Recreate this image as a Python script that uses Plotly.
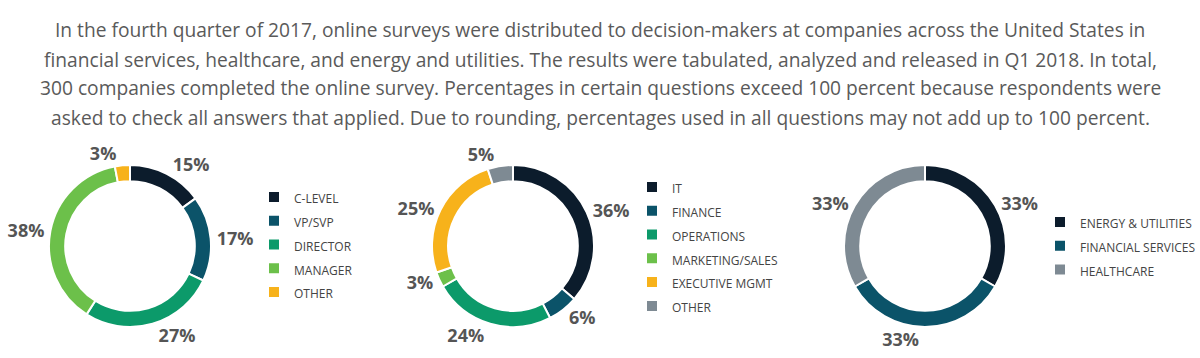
import plotly.graph_objects as go

intro_lines = [
    "In the fourth quarter of 2017, online surveys were distributed to decision-makers at companies across the United States in",
    "financial services, healthcare, and energy and utilities. The results were tabulated, analyzed and released in Q1 2018. In total,",
    "300 companies completed the online survey. Percentages in certain questions exceed 100 percent because respondents were",
    "asked to check all answers that applied. Due to rounding, percentages used in all questions may not add up to 100 percent.",
]

title_labels = ["C-LEVEL", "VP/SVP", "DIRECTOR", "MANAGER", "OTHER"]
title_values = [15, 17, 27, 38, 3]

dept_labels = ["IT", "FINANCE", "OPERATIONS", "MARKETING/SALES", "EXECUTIVE MGMT", "OTHER"]
dept_values = [36, 6, 24, 3, 25, 5]

industry_labels = ["ENERGY & UTILITIES", "FINANCIAL SERVICES", "HEALTHCARE"]
industry_values = [33, 33, 33]

NAVY = "#0c1c2c"
TEAL = "#0b5369"
GREEN = "#0c9a6a"
LGREEN = "#6cc04a"
ORANGE = "#f7b21b"
GRAY = "#7e8a93"

title_colors = [NAVY, TEAL, GREEN, LGREEN, ORANGE]
dept_colors = [NAVY, TEAL, GREEN, LGREEN, ORANGE, GRAY]
industry_colors = [NAVY, TEAL, GRAY]

TXT = "#555555"
LBL_FONT = dict(family="Open Sans", size=18, color=TXT, weight="bold")


def leg_names(labels, size_str):
    # a distinct style string keeps identical labels in different donuts
    # as separate legend entries
    return ['<span style="font-size:%s">%s</span>' % (size_str, l) for l in labels]


def donut(labels, values, colors, xdom, ydom, legend, size_str):
    return go.Pie(
        labels=leg_names(labels, size_str),
        values=values,
        marker=dict(colors=colors, line=dict(color="white", width=2)),
        hole=0.8,
        sort=False,
        direction="clockwise",
        rotation=0,
        texttemplate="%{value}%",
        textposition="outside",
        outsidetextfont=LBL_FONT,
        hoverinfo="label+percent",
        domain=dict(x=xdom, y=ydom),
        legend=legend,
        showlegend=True,
    )


W, H = 1200, 358
ydom = [(H - 327) / H, (H - 165) / H]

fig = go.Figure()
fig.add_trace(donut(title_labels, title_values, title_colors,
                    [49 / W, 211 / W], ydom, "legend", "12px"))
fig.add_trace(donut(dept_labels, dept_values, dept_colors,
                    [432 / W, 594 / W], ydom, "legend2", "12.0px"))
fig.add_trace(donut(industry_labels, industry_values, industry_colors,
                    [844 / W, 1006 / W], ydom, "legend3", "12.00px"))

line_y = [30, 59, 88, 117]
for txt, yy in zip(intro_lines, line_y):
    fig.add_annotation(text=txt, x=0.5, y=1 - yy / H, xref="paper", yref="paper",
                       showarrow=False, xanchor="center", yanchor="middle",
                       font=dict(family="Open Sans", size=19.2, color="#5a5a5a"))

leg_common = dict(font=dict(family="Open Sans", size=16, color="#444444"),
                  bgcolor="rgba(0,0,0,0)", borderwidth=0, xanchor="left",
                  yanchor="top", traceorder="normal", itemclick=False)
fig.update_layout(
    width=W, height=H,
    margin=dict(l=0, r=0, t=0, b=0, autoexpand=False),
    paper_bgcolor="white",
    plot_bgcolor="white",
    legend=dict(x=254 / W, y=1 - 180 / H, **leg_common),
    legend2=dict(x=632 / W, y=1 - 170 / H, **leg_common),
    legend3=dict(x=1040 / W, y=1 - 205 / H, **leg_common),
)

fig.write_html("out.html",
               config={"displayModeBar": False},
               post_script="document.body.style.margin='0';"
                           "document.body.style.padding='0';")
